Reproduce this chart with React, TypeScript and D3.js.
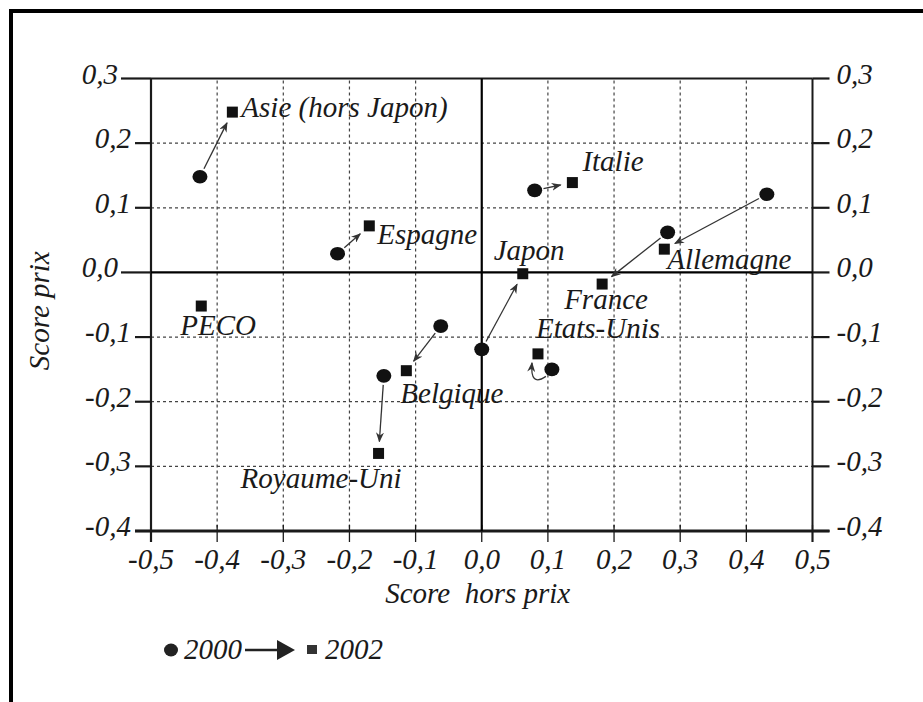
import React, { useEffect, useRef } from "react";
import * as d3 from "d3";

// Compétitivité : score prix / score hors prix, 2000 -> 2002
const countries = [
  "Asie (hors Japon)",
  "Espagne",
  "Italie",
  "Allemagne",
  "Japon",
  "France",
  "Etats-Unis",
  "PECO",
  "Belgique",
  "Royaume-Uni",
];
const horsPrix2000 = [-0.426, -0.218, 0.08, 0.431, 0.0, 0.281, 0.106, null, -0.062, -0.148];
const prix2000 = [0.148, 0.029, 0.127, 0.121, -0.119, 0.062, -0.15, null, -0.083, -0.16];
const horsPrix2002 = [-0.377, -0.17, 0.137, 0.276, 0.062, 0.182, 0.085, -0.424, -0.114, -0.156];
const prix2002 = [0.248, 0.072, 0.139, 0.036, -0.002, -0.018, -0.126, -0.052, -0.152, -0.28];

const xTicks = [-0.5, -0.4, -0.3, -0.2, -0.1, 0, 0.1, 0.2, 0.3, 0.4, 0.5];
const yTicks = [0.3, 0.2, 0.1, 0, -0.1, -0.2, -0.3, -0.4];

// where each country name sits, relative to its 2002 square (px)
const labelOffsets: Record<string, [number, number]> = {
  "Asie (hors Japon)": [9, 5],
  Espagne: [8, 18],
  Italie: [10, -12],
  Allemagne: [3, 20],
  Japon: [-29, -14],
  France: [-38, 25],
  "Etats-Unis": [-2, -16],
  PECO: [-21, 29],
  Belgique: [-6, 32],
  "Royaume-Uni": [-138, 35],
};

const fmt = (v: number) => v.toFixed(1).replace(".", ",");

const App: React.FC = () => {
  const svgRef = useRef<SVGSVGElement>(null);
  const width = 923;
  const height = 702;

  useEffect(() => {
    if (!svgRef.current) return;
    const svg = d3.select(svgRef.current);
    svg.selectAll("*").remove();

    const left = 151;
    const right = 812.5;
    const top = 78.5;
    const bottom = 531;

    const x = d3.scaleLinear().domain([-0.5, 0.5]).range([left, right]);
    const y = d3.scaleLinear().domain([0.3, -0.4]).range([top, bottom]);

    const font = "'Liberation Serif', 'Times New Roman', serif";
    const ink = "#1a1a1a";
    const fs = 29;

    // frame
    svg
      .append("rect")
      .attr("x", 11)
      .attr("y", 11)
      .attr("width", 940)
      .attr("height", 720)
      .attr("fill", "#fff")
      .attr("stroke", "#000")
      .attr("stroke-width", 4);

    const defs = svg.append("defs");
    defs
      .append("marker")
      .attr("id", "arrow")
      .attr("viewBox", "0 0 10 8")
      .attr("refX", 9)
      .attr("refY", 4)
      .attr("markerWidth", 10)
      .attr("markerHeight", 8)
      .attr("markerUnits", "userSpaceOnUse")
      .attr("orient", "auto")
      .append("path")
      .attr("d", "M0,0 L10,4 L0,8 L3,4 Z")
      .attr("fill", "#333");

    // grid
    const grid = svg
      .append("g")
      .attr("stroke", "#444")
      .attr("stroke-width", 1.2)
      .attr("stroke-dasharray", "3,3");
    grid
      .selectAll("line.v")
      .data(xTicks.filter((d) => d !== 0 && Math.abs(d) !== 0.5))
      .join("line")
      .attr("x1", (d) => x(d))
      .attr("x2", (d) => x(d))
      .attr("y1", top + 2)
      .attr("y2", bottom);
    grid
      .selectAll("line.h")
      .data(yTicks.filter((d) => d !== 0 && d !== 0.3 && d !== -0.4))
      .join("line")
      .attr("x1", left)
      .attr("x2", right)
      .attr("y1", (d) => y(d))
      .attr("y2", (d) => y(d));

    const axes = svg.append("g").attr("stroke", ink).attr("fill", "none");
    // left / right ticks
    axes
      .selectAll("line.lt")
      .data(yTicks)
      .join("line")
      .attr("x1", (d) => (d === 0 || d === 0.3 ? left - 30 : left - 16))
      .attr("x2", left)
      .attr("y1", (d) => y(d))
      .attr("y2", (d) => y(d))
      .attr("stroke-width", 2.2);
    axes
      .selectAll("line.rt")
      .data(yTicks)
      .join("line")
      .attr("x1", right)
      .attr("x2", right + 17)
      .attr("y1", (d) => y(d))
      .attr("y2", (d) => y(d))
      .attr("stroke-width", 2.2);
    // bottom ticks
    axes
      .selectAll("line.bt")
      .data(xTicks)
      .join("line")
      .attr("x1", (d) => x(d))
      .attr("x2", (d) => x(d))
      .attr("y1", bottom - 6)
      .attr("y2", bottom + 11)
      .attr("stroke-width", 1.3);

    // box and zero lines
    axes.append("line").attr("x1", left).attr("x2", right).attr("y1", top).attr("y2", top).attr("stroke-width", 2.2);
    axes.append("line").attr("x1", left - 16).attr("x2", right + 17).attr("y1", bottom).attr("y2", bottom).attr("stroke-width", 3.2);
    axes.append("line").attr("x1", left).attr("x2", left).attr("y1", top).attr("y2", bottom + 11).attr("stroke-width", 2.2);
    axes.append("line").attr("x1", right).attr("x2", right).attr("y1", top).attr("y2", bottom + 11).attr("stroke-width", 2);
    axes.append("line").attr("x1", left).attr("x2", right).attr("y1", y(0)).attr("y2", y(0)).attr("stroke-width", 2.2).attr("stroke", "#000");
    axes.append("line").attr("x1", x(0)).attr("x2", x(0)).attr("y1", top).attr("y2", bottom).attr("stroke-width", 2.2).attr("stroke", "#000");

    const text = svg
      .append("g")
      .attr("font-family", font)
      .attr("font-style", "italic")
      .attr("font-size", fs)
      .attr("fill", ink);

    text
      .selectAll("text.yl")
      .data(yTicks)
      .join("text")
      .attr("x", (d) => (d === 0 || d === 0.3 ? left - 33 : left - 20))
      .attr("y", (d) => y(d) + 5)
      .attr("text-anchor", "end")
      .text((d) => fmt(d));
    text
      .selectAll("text.yr")
      .data(yTicks)
      .join("text")
      .attr("x", right + 24)
      .attr("y", (d) => y(d) + 5)
      .text((d) => fmt(d));
    text
      .selectAll("text.xl")
      .data(xTicks)
      .join("text")
      .attr("x", (d) => x(d))
      .attr("y", bottom + 38)
      .attr("text-anchor", "middle")
      .text((d) => fmt(d));

    text
      .append("text")
      .attr("x", (left + right) / 2 - 4)
      .attr("y", bottom + 72)
      .attr("text-anchor", "middle")
      .style("white-space", "pre")
      .text("Score  hors prix");
    text
      .append("text")
      .attr("transform", `translate(49,${(top + bottom) / 2 + 6}) rotate(-90)`)
      .attr("text-anchor", "middle")
      .text("Score prix");

    // arrows 2000 -> 2002
    const arrows = svg
      .append("g")
      .attr("fill", "none")
      .attr("stroke", "#333")
      .attr("stroke-width", 1.3);
    countries.forEach((name, i) => {
      const hp0 = horsPrix2000[i];
      const p0 = prix2000[i];
      if (hp0 === null || p0 === null) return;
      const x0 = x(hp0);
      const y0 = y(p0);
      const x1 = x(horsPrix2002[i]);
      const y1 = y(prix2002[i]);
      if (name === "Etats-Unis") {
        arrows
          .append("path")
          .attr("d", `M${x0 - 6},${y0 + 7} Q${x0 - 22},${y0 + 18} ${x1 - 6},${y1 + 9}`)
          .attr("marker-end", "url(#arrow)");
        return;
      }
      const dx = x1 - x0;
      const dy = y1 - y0;
      const len = Math.hypot(dx, dy);
      const ux = dx / len;
      const uy = dy / len;
      arrows
        .append("line")
        .attr("x1", x0 + ux * 9)
        .attr("y1", y0 + uy * 9)
        .attr("x2", x1 - ux * 12)
        .attr("y2", y1 - uy * 12)
        .attr("marker-end", "url(#arrow)");
    });

    // markers
    const marks = svg.append("g").attr("fill", "#111");
    countries.forEach((name, i) => {
      const hp0 = horsPrix2000[i];
      const p0 = prix2000[i];
      if (hp0 !== null && p0 !== null) {
        marks.append("ellipse").attr("cx", x(hp0)).attr("cy", y(p0)).attr("rx", 7.5).attr("ry", 6.8);
      }
      marks
        .append("rect")
        .attr("x", x(horsPrix2002[i]) - 5.5)
        .attr("y", y(prix2002[i]) - 5.5)
        .attr("width", 11)
        .attr("height", 11);
      const [ox, oy] = labelOffsets[name];
      text
        .append("text")
        .attr("x", x(horsPrix2002[i]) + ox)
        .attr("y", y(prix2002[i]) + oy)
        .text(name);
    });

    // legend
    const lg = svg.append("g").attr("transform", "translate(0,650)");
    lg.append("ellipse").attr("cx", 171).attr("cy", 0).attr("rx", 7).attr("ry", 6.5).attr("fill", "#222");
    lg.append("text")
      .attr("x", 184)
      .attr("y", 9)
      .attr("font-family", font)
      .attr("font-style", "italic")
      .attr("font-size", fs)
      .attr("fill", ink)
      .text("2000");
    lg.append("line").attr("x1", 245).attr("x2", 280).attr("y1", 0).attr("y2", 0).attr("stroke", "#222").attr("stroke-width", 2.5);
    lg.append("path").attr("d", "M277,-10 L295,0 L277,10 Z").attr("fill", "#222");
    lg.append("rect").attr("x", 307).attr("y", -5).attr("width", 10).attr("height", 9).attr("fill", "#333");
    lg.append("text")
      .attr("x", 325)
      .attr("y", 9)
      .attr("font-family", font)
      .attr("font-style", "italic")
      .attr("font-size", fs)
      .attr("fill", ink)
      .text("2002");
  }, []);

  return (
    <svg
      ref={svgRef}
      width={width}
      height={height}
      style={{ position: "absolute", left: 0, top: 0, display: "block", background: "#fff" }}
    />
  );
};

export default App;
